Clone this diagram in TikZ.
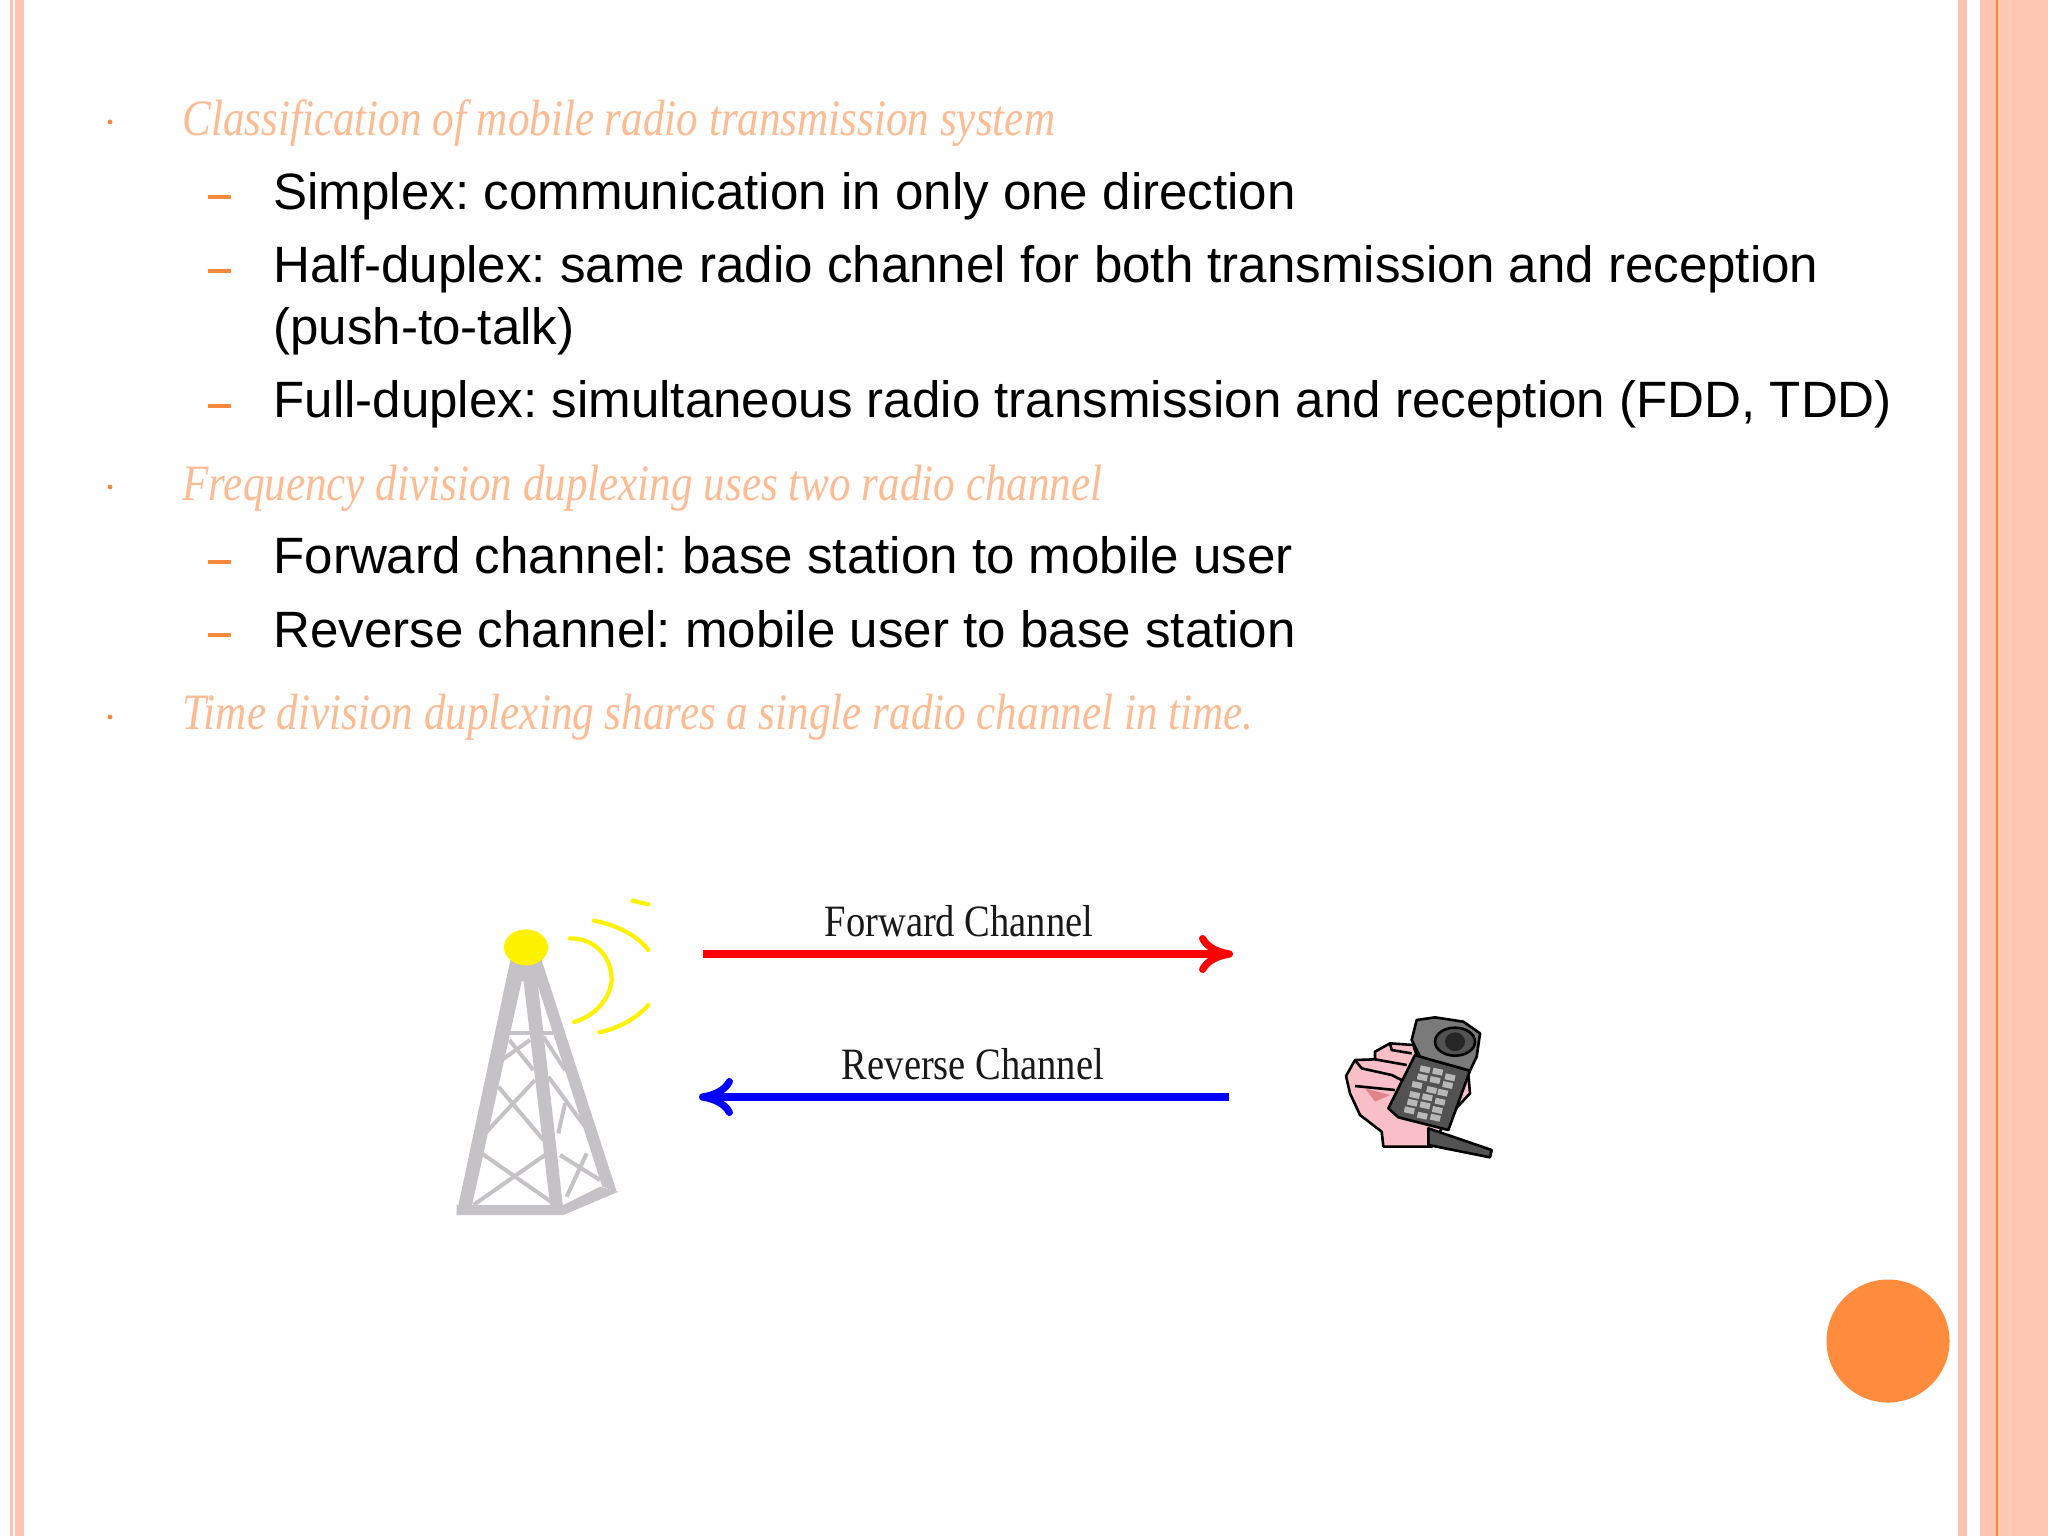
\documentclass[tikz,border=0pt]{standalone}
\usepackage{fontspec}
\usepackage{tikz}
\usetikzlibrary{arrows.meta}
\newfontfamily\bodyfont{Liberation Sans}
\newfontfamily\labelfont[FakeStretch=0.86]{Liberation Serif}
\newfontfamily\headfont[FakeStretch=0.845]{Liberation Serif}
\definecolor{bandpink}{HTML}{FFC3B0}
\definecolor{bandpale}{HTML}{FDC9B5}
\definecolor{accent}{HTML}{F58A3C}
\definecolor{cornerdot}{HTML}{FF8B3D}
\definecolor{headtone}{HTML}{FBBC93}
\definecolor{towergray}{HTML}{C4C2C6}
\definecolor{skin}{HTML}{F9BFC8}
\frenchspacing
\tikzset{
  headline/.style={anchor=base west,inner sep=0pt,text=headtone,font=\headfont\fontsize{25.5}{26}\selectfont\itshape},
  subline/.style={anchor=base west,inner sep=0pt,text=black,font=\bodyfont\fontsize{25.55}{26}\selectfont},
  chanlabel/.style={inner sep=0pt,text=black!90,font=\labelfont\fontsize{22.4}{23}\selectfont},
  bulletdot/.style={circle,fill=accent,inner sep=0pt,minimum size=2.4pt},
  subdash/.style={fill=accent,inner sep=0pt,minimum width=11.5pt,minimum height=1.6pt},
  chanarrow/.style={line width=4pt,-{Computer Modern Rightarrow[length=17pt,width=19pt,line width=3.6pt]}},
  strut/.style={towergray,line width=2pt},
  wave/.style={yellow,line width=2.1pt,line cap=round},
  phoneline/.style={draw=black,line width=1.3pt,line join=round},
}
\begin{document}
\begin{tikzpicture}[x=0.5pt,y=-0.5pt]
\useasboundingbox (0,0) rectangle (2048,1536);
\fill[white!99.5!black] (0,0) rectangle (2048,1536);
% side bands
\fill[bandpink] (10,0) rectangle (13,1536);
\fill[bandpink] (15,0) rectangle (24,1536);
\fill[bandpink] (1958,0) rectangle (1967,1536);
\fill[bandpink] (1980,0) rectangle (1996,1536);
\fill[accent] (1996,0) rectangle (1998,1536);
\fill[bandpale] (1998,0) rectangle (2048,1536);
\fill[bandpink] (2012,0) rectangle (2016,1536);
\fill[cornerdot] (1888,1341) circle (61.5); % Corner.dot
% text lines
\node[bulletdot] (dot1) at (110,122) {};
\node[headline] (head1) at (182,135) {Classification of mobile radio transmission system};
\node[subdash] (dash1) at (219,197) {};
\node[subline] (simplex) at (273,209) {Simplex: communication in only one direction};
\node[subdash] (dash2) at (219,271) {};
\node[subline] (halfdup) at (273,282) {Half-duplex: same radio channel for both transmission and reception};
\node[subline] (halfdup2) at (273,344) {(push-to-talk)};
\node[subdash] (dash3) at (219,406) {};
\node[subline] (fulldup) at (273,417) {Full-duplex: simultaneous radio transmission and reception (FDD, TDD)};
\node[bulletdot] (dot2) at (110,487) {};
\node[headline] (head2) at (182,500) {Frequency division duplexing uses two radio channel};
\node[subdash] (dash4) at (219,562) {};
\node[subline] (forward) at (273,573) {Forward channel: base station to mobile user};
\node[subdash] (dash5) at (219,635) {};
\node[subline] (reverse) at (273,647) {Reverse channel: mobile user to base station};
\node[bulletdot] (dot3) at (110,717) {};
\node[headline] (head3) at (182,729) {Time division duplexing shares a single radio channel in time.};
% channels
\coordinate (fwdA) at (703,954);
\coordinate (fwdB) at (1233,954);
\coordinate (revA) at (1229,1097);
\coordinate (revB) at (699,1097);
\draw[chanarrow,red] (fwdA) -- (fwdB); % Forward.arrow
\draw[chanarrow,blue] (revA) -- (revB); % Reverse.arrow
\node[chanlabel] (fwdlabel) at (959,921) {Forward Channel};
\node[chanlabel] (revlabel) at (973,1064) {Reverse Channel};
% tower, in units of a third of a pixel
\begin{scope}[shift={(430,870)},x=0.16667pt,y=-0.16667pt]
\fill[towergray] (240,270) -- (335,270) -- (345,330) -- (250,335) -- cycle;
\fill[towergray] (240,275) -- (278,320) -- (125,1010) -- (80,1030) -- cycle; % Tower.left
\fill[towergray] (278,310) -- (320,310) -- (400,1020) -- (362,1020) -- cycle; % Tower.mid
\fill[towergray] (318,330) -- (338,280) -- (560,965) -- (517,950) -- cycle; % Tower.right
\fill[towergray] (80,1005) -- (400,1005) -- (510,950) -- (565,965) -- (400,1035) -- (80,1035) -- cycle; % Tower.base
\draw[strut] (235,490) -- (370,490);
\draw[strut] (238,510) -- (310,600);
\draw[strut] (300,510) -- (215,570);
\draw[strut] (205,650) -- (340,810);
\draw[strut] (170,785) -- (315,630);
\draw[strut] (155,850) -- (370,1000);
\draw[strut] (130,1005) -- (345,855);
\draw[strut] (340,500) -- (405,600);
\draw[strut] (355,620) -- (465,770);
\draw[strut] (405,700) -- (385,790);
\draw[strut] (390,855) -- (510,930);
\draw[strut] (470,850) -- (410,980);
\draw[wave] (420,205) .. controls (500,205) and (545,265) .. (545,330) .. controls (540,390) and (490,440) .. (432,456);
\draw[wave] (492,152) .. controls (560,165) and (620,195) .. (655,240);
\draw[wave] (508,487) .. controls (565,475) and (620,445) .. (655,405);
\draw[wave] (607,92) -- (655,103);
\fill[yellow] (288,232) ellipse (66 and 54); % Tower.lamp
\end{scope}
% phone
\begin{scope}[shift={(1320,1000)},x=0.16667pt,y=-0.16667pt]
\fill[skin,phoneline] (78,228) -- (105,180) -- (165,178) -- (165,155) -- (210,130) -- (280,135) -- (300,200) -- (415,225) -- (445,225) -- (450,280) -- (385,350) -- (335,440) -- (190,440) -- (185,395) -- (120,345) -- (90,280) -- cycle;
\fill[skin!70!red!80!gray] (135,265) -- (210,285) -- (165,305) -- cycle;
\draw[phoneline] (105,180) -- (125,205) -- (215,225) -- (245,240);
\draw[phoneline] (165,178) -- (260,195);
\draw[phoneline] (210,130) -- (215,150) -- (275,160);
\draw[phoneline] (105,258) -- (225,270);
\fill[black!68,phoneline] (325,385) -- (515,450) -- (510,472) -- (325,435) -- cycle; % Phone.aerial
\fill[black!68,phoneline] (285,165) -- (450,212) -- (385,390) -- (235,352) -- (205,325) -- cycle;
\fill[black!52,phoneline] (275,120) -- (290,60) -- (345,52) -- (430,65) -- (480,100) -- (470,170) -- (450,212) -- (300,170) -- cycle;
\fill[black!68,phoneline] (405,125) ellipse (60 and 42); % Phone.speaker
\fill[black!85] (405,125) ellipse (30 and 28);
\foreach \kx/\ky in {315/208,353/215,390/232,307/232,345/240,291/255,335/270,383/255,284/285,322/292,368/278,277/308,315/316,360/305,268/331,352/330,307/347,346/353}
  \fill[black!28,rotate around={-12:(\kx,\ky)}] (\kx-15,\ky-9) rectangle (\kx+15,\ky+9);
\end{scope}
\end{tikzpicture}
\end{document}
